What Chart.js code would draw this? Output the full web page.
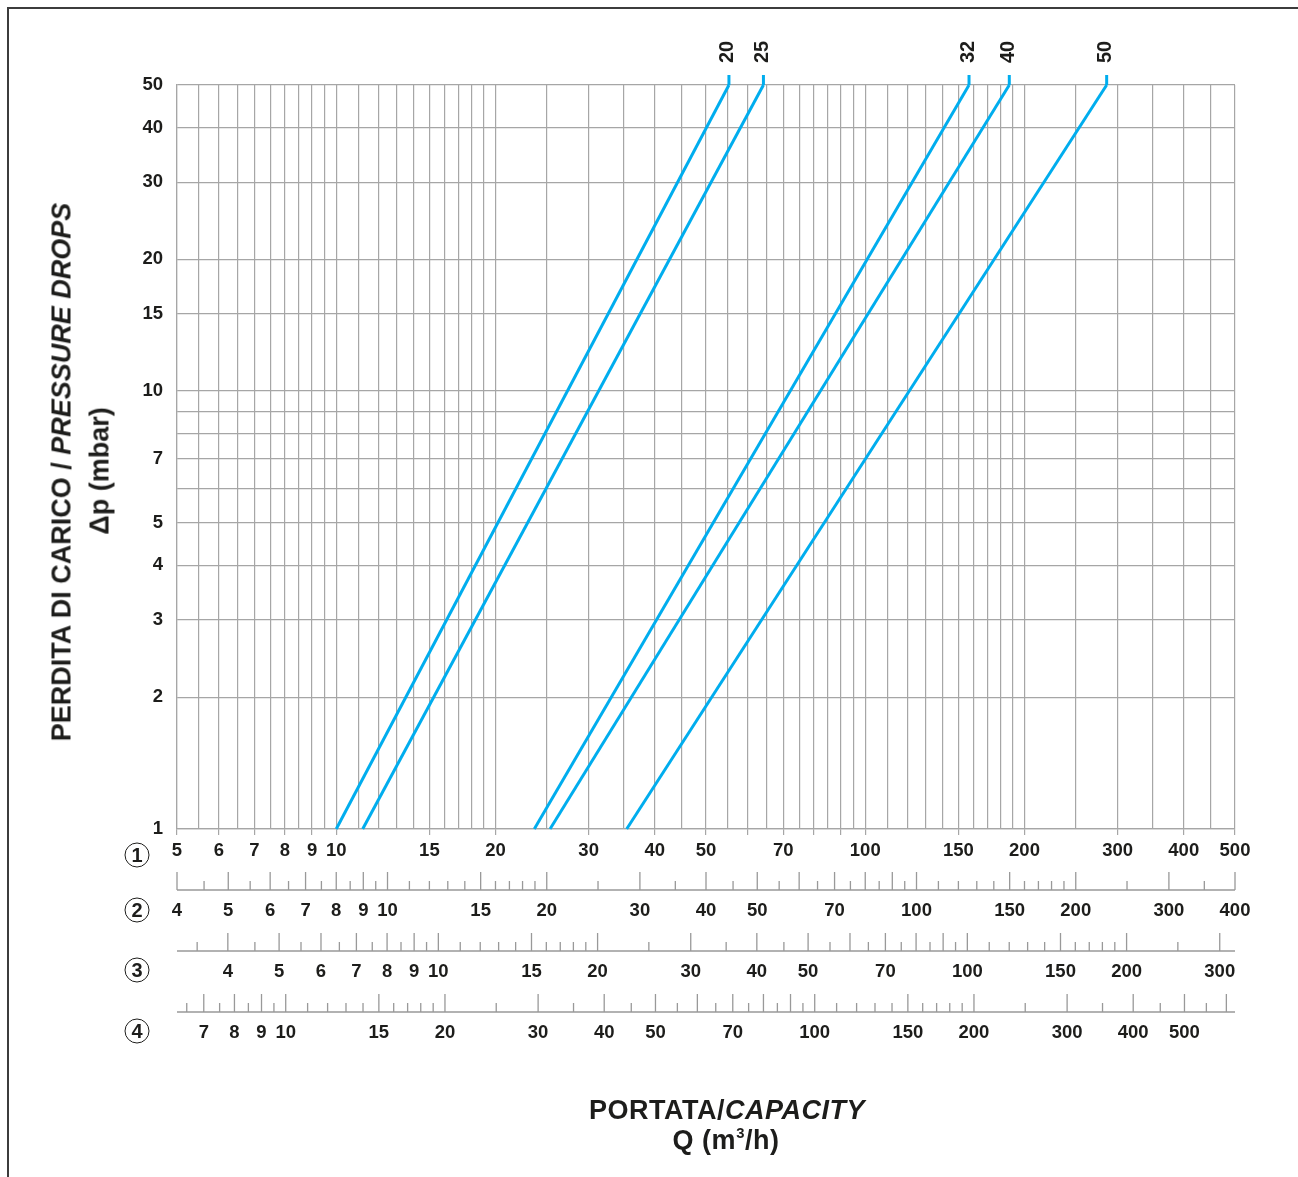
<!DOCTYPE html>
<html>
<head>
<meta charset="utf-8">
<script src="https://cdn.jsdelivr.net/npm/chart.js@4.4.1/dist/chart.umd.min.js"></script>
<style>
  body { margin: 0; background: #fff; width: 1298px; height: 1177px; overflow: hidden; position: relative;
         font-family: "Liberation Sans", Arial, sans-serif; color: #1d1d1b; }
  #frame { position: absolute; left: 7px; top: 7px; width: 1300px; height: 1180px;
           border-top: 2px solid #3c3c3c; border-left: 2px solid #3c3c3c; }
  #c { position: absolute; left: 0; top: 0; }
  .t { position: absolute; font-weight: bold; white-space: nowrap; transform: translate(-50%, -50%); }
  .rot { transform: translate(-50%, -50%) rotate(-90deg); }
  .circ { position: absolute; width: 23px; height: 23px; border: 1.7px solid #1d1d1b; border-radius: 50%;
          font-weight: bold; font-size: 20px; line-height: 23px; text-align: center; transform: translate(-50%, -50%); }
  sup { font-size: 0.55em; vertical-align: 0.7em; }
</style>
</head>
<body>
<div id="frame"></div>
<canvas id="c" width="1298" height="1177"></canvas>

<div class="t rot" style="left:62px; top:472px; font-size:27px;">PERDITA DI CARICO / <i>PRESSURE DROPS</i></div>
<div class="t rot" style="left:100px; top:471px; font-size:27px;">&Delta;p (mbar)</div>
<div class="t" style="left:727px; top:1110px; font-size:27px; letter-spacing:0.5px;">PORTATA/<i>CAPACITY</i></div>
<div class="t" style="left:726px; top:1140px; font-size:27px; letter-spacing:0.5px;">Q (m<sup>3</sup>/h)</div>

<div class="circ" style="left:137px; top:855px;">1</div>
<div class="circ" style="left:137px; top:910px;">2</div>
<div class="circ" style="left:137px; top:970px;">3</div>
<div class="circ" style="left:137px; top:1031px;">4</div>

<script>
// pipe sizes and the two ends of each straight line (log-log)
const series = ["20", "25", "32", "40", "50"];
const flowBottom = [10.0, 11.22, 23.68, 25.36, 35.4];
const flowTop = [55.25, 64.2, 157.1, 187.2, 286];
const dpBottom = 1;
const dpTop = 50;

// pressure axis
const yTicks = [1, 2, 3, 4, 5, 6, 7, 8, 9, 10, 15, 20, 30, 40, 50];
const yLabels = [1, 2, 3, 4, 5, 7, 10, 15, 20, 30, 40, 50];

// the four capacity scales (1 = grid scale)
const x1Range = [5, 500];
const x2Range = [4, 400];
const x3Range = [3.206, 320.6];
const x4Range = [6.23, 623];
const x1Labels = [5, 6, 7, 8, 9, 10, 15, 20, 30, 40, 50, 70, 100, 150, 200, 300, 400, 500];
const x2Labels = [4, 5, 6, 7, 8, 9, 10, 15, 20, 30, 40, 50, 70, 100, 150, 200, 300, 400];
const x3Labels = [4, 5, 6, 7, 8, 9, 10, 15, 20, 30, 40, 50, 70, 100, 150, 200, 300];
const x4Labels = [7, 8, 9, 10, 15, 20, 30, 40, 50, 70, 100, 150, 200, 300, 400, 500];

// mantissas that get a long tick
const majorSteps = [1, 1.5, 2, 3, 4, 5, 6, 7, 8, 9];

const blue = "#00adee";
const gridGrey = "#a6a6a6";
const ink = "#1d1d1b";

function mantissa(v) {
  let m = v / Math.pow(10, Math.floor(Math.log10(v) + 1e-9));
  return Math.round(m * 100) / 100;
}
function isMajor(v) {
  return majorSteps.indexOf(mantissa(v)) >= 0;
}

// tick positions of the log paper: 1-2 by 0.1, 2-10 by 0.5 in every decade
function paperTicks(min, max) {
  let out = [];
  [1, 10, 100, 1000].forEach(function (b) {
    for (let m = 10; m < 100; m += (m < 20 ? 1 : 5)) {
      let v = Math.round(b * m * 10) / 100;
      if (v >= min - 1e-6 && v <= max + 1e-6 && out.indexOf(v) < 0) out.push(v);
    }
  });
  if (out.indexOf(max) < 0 && isMajor(max)) out.push(max);
  return out;
}

Chart.defaults.font.family = '"Liberation Sans", Arial, sans-serif';
Chart.defaults.font.size = 18.5;
Chart.defaults.font.weight = "bold";
Chart.defaults.color = ink;

function labelCb(list) {
  return function (value) {
    let v = Math.round(value * 100) / 100;
    return list.indexOf(v) >= 0 ? String(v) : "";
  };
}

function sideScale(range, labels) {
  return {
    type: "logarithmic",
    position: "bottom",
    min: range[0],
    max: range[1],
    afterBuildTicks: function (s) {
      s.ticks = paperTicks(range[0], range[1]).map(function (v) { return { value: v }; });
    },
    afterFit: function (s) { s.height = 61; },
    grid: { display: false, drawTicks: false },
    border: { display: false },
    ticks: { autoSkip: false, maxRotation: 0, minRotation: 0, padding: 40, callback: labelCb(labels) }
  };
}

// long / short ticks of scales 2-4 sit on a base line above their numbers
const rowMarks = {
  id: "rowMarks",
  afterDraw: function (chart) {
    const c = chart.ctx;
    ["x2", "x3", "x4"].forEach(function (id) {
      const s = chart.scales[id];
      const base = s.top + 30;
      c.save();
      c.strokeStyle = "#999999";
      c.lineWidth = 1.3;
      c.beginPath();
      c.moveTo(s.left, base);
      c.lineTo(s.right, base);
      s.ticks.forEach(function (t) {
        const px = s.getPixelForValue(t.value);
        const len = isMajor(t.value) ? 18 : 9;
        c.moveTo(px, base);
        c.lineTo(px, base - len);
      });
      c.stroke();
      c.restore();
    });
  }
};

// short vertical lead and size label on top of every line
const sizeLabels = {
  id: "sizeLabels",
  afterDatasetsDraw: function (chart) {
    const c = chart.ctx;
    chart.data.datasets.forEach(function (ds, i) {
      const pts = chart.getDatasetMeta(i).data;
      const p = pts[pts.length - 1];
      c.save();
      c.strokeStyle = ds.borderColor;
      c.lineWidth = 3;
      c.beginPath();
      c.moveTo(p.x, p.y);
      c.lineTo(p.x, p.y - 10);
      c.stroke();
      c.translate(p.x - 1, p.y - 33);
      c.rotate(-Math.PI / 2);
      c.fillStyle = ink;
      c.font = 'bold 20px "Liberation Sans", Arial, sans-serif';
      c.textAlign = "center";
      c.textBaseline = "middle";
      c.fillText(ds.label, 0, 0);
      c.restore();
    });
  }
};

const datasets = series.map(function (s, i) {
  return {
    label: s,
    data: [{ x: flowBottom[i], y: dpBottom }, { x: flowTop[i], y: dpTop }],
    borderColor: blue,
    borderWidth: 3,
    pointRadius: 0,
    fill: false,
    clip: false,
    xAxisID: "x",
    yAxisID: "y"
  };
});

new Chart(document.getElementById("c"), {
  type: "line",
  data: { datasets: datasets },
  options: {
    responsive: false,
    animation: false,
    events: [],
    layout: { padding: { left: 0, top: 85, right: 63, bottom: 134 } },
    plugins: { legend: { display: false }, tooltip: { enabled: false } },
    scales: {
      x: {
        type: "logarithmic",
        position: "bottom",
        min: x1Range[0],
        max: x1Range[1],
        afterBuildTicks: function (s) {
          s.ticks = paperTicks(x1Range[0], x1Range[1]).map(function (v) { return { value: v }; });
        },
        afterFit: function (s) { s.height = 31; },
        grid: {
          color: gridGrey,
          lineWidth: 1.2,
          tickLength: 6,
          tickWidth: 1.2,
          tickColor: function (ctx) {
            return ctx.tick && isMajor(ctx.tick.value) ? gridGrey : "rgba(0,0,0,0)";
          }
        },
        border: { color: gridGrey, width: 1.2 },
        ticks: { autoSkip: false, maxRotation: 0, minRotation: 0, padding: 5, callback: labelCb(x1Labels) }
      },
      x2: sideScale(x2Range, x2Labels),
      x3: sideScale(x3Range, x3Labels),
      x4: sideScale(x4Range, x4Labels),
      y: {
        type: "logarithmic",
        min: dpBottom,
        max: dpTop,
        afterBuildTicks: function (s) {
          s.ticks = yTicks.map(function (v) { return { value: v }; });
        },
        afterFit: function (s) { s.width = 177; },
        grid: { color: gridGrey, lineWidth: 1.2, drawTicks: false },
        border: { color: gridGrey, width: 1.2 },
        ticks: { autoSkip: false, padding: 14, callback: labelCb(yLabels) }
      }
    }
  },
  plugins: [rowMarks, sizeLabels]
});
</script>
</body>
</html>
